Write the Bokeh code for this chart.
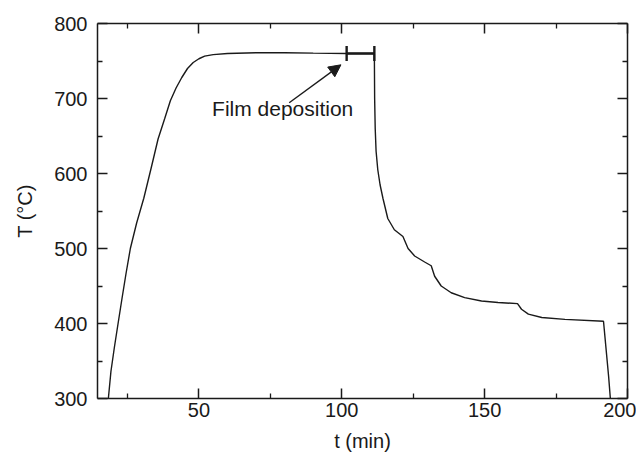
import math
from bokeh.plotting import figure
from bokeh.models import (Range1d, FixedTicker, LinearAxis, Label, Arrow,
                          NormalHead, CustomJSTickFormatter)
from bokeh.embed import file_html
from bokeh.resources import INLINE

# ---- data ----
heat_t = [18.3, 19.2, 20.4, 21.7, 23.1, 24.5, 26.0, 28.2, 30.7, 33.2, 35.7,
          38.0, 40.0, 42.0, 44.0, 46.0, 48.0, 50.0, 52.0, 55.0, 60.0, 70.0,
          80.0, 90.0, 101.7, 111.4]
heat_T = [300, 336, 368, 400, 434, 467, 500, 534, 567, 606, 646,
          673, 697, 714, 728, 740, 748, 753, 756.5, 758.5, 760, 761,
          761, 760.5, 760, 760]

cool_t = [111.4, 111.5, 111.7, 112.0, 112.6, 113.4, 114.4, 116.1, 118.4, 121.4,
          123.2, 125.5, 129.0, 131.3, 132.5, 134.8, 138.3, 143.0, 148.9, 154.7,
          161.5, 162.9, 165.3, 170.0, 178.1, 191.6, 193.4, 194.0]
cool_T = [760, 700, 660, 630, 605, 585, 567, 540, 525, 516,
          500, 490, 482, 477, 463, 450, 441, 434.5, 430, 428,
          426.5, 419, 412.5, 408, 405.5, 403, 329, 300]

dep_t = [101.7, 111.4]       # film deposition window (min)
dep_T = [760, 760]

x_ticks = [50, 100, 150, 200]
x_minor = [25, 75, 125, 175]
y_ticks = [300, 400, 500, 600, 700, 800]
y_minor = [350, 450, 550, 650, 750]

FONT = "Liberation Sans"
INK = "#1a1a1a"

p = figure(width=636, height=454, output_backend="svg", toolbar_location=None,
           x_range=Range1d(14.5, 200), y_range=Range1d(300, 800),
           min_border_left=97, min_border_right=9, min_border_top=23,
           min_border_bottom=52)
p.xgrid.visible = False
p.ygrid.visible = False
p.outline_line_color = None
p.background_fill_color = "white"
p.border_fill_color = "white"

p.line(heat_t + cool_t, heat_T + cool_T, line_color=INK, line_width=1.4)

# deposition bar with end caps
p.line(dep_t, dep_T, line_color=INK, line_width=2.6)
p.scatter(dep_t, dep_T, marker="dash", angle=math.pi / 2, size=15,
          line_color=INK, line_width=2.4)


def style_axis(ax, ticks, minor, labels=True):
    ax.ticker = FixedTicker(ticks=ticks, minor_ticks=minor)
    ax.axis_line_color = INK
    ax.axis_line_width = 1.5
    ax.major_tick_line_color = INK
    ax.major_tick_line_width = 1.5
    ax.minor_tick_line_color = INK
    ax.minor_tick_line_width = 1.3
    ax.major_tick_in = 10
    ax.major_tick_out = 0
    ax.minor_tick_in = 5
    ax.minor_tick_out = 0
    ax.major_label_text_font = FONT
    ax.major_label_text_font_size = "20px"
    ax.major_label_text_color = INK
    ax.axis_label_text_font = FONT
    ax.axis_label_text_font_size = "20px"
    ax.axis_label_text_font_style = "normal"
    ax.axis_label_text_color = INK
    if not labels:
        ax.formatter = CustomJSTickFormatter(code="return ''")
        ax.major_label_standoff = 0


style_axis(p.xaxis[0], x_ticks, x_minor)
style_axis(p.yaxis[0], y_ticks, y_minor)
p.xaxis[0].major_label_standoff = 4
p.yaxis[0].major_label_standoff = 10
p.xaxis[0].axis_label = "t (min)"
p.yaxis[0].axis_label = "T (°C)"
p.xaxis[0].axis_label_standoff = 10
p.yaxis[0].axis_label_standoff = 15

top = LinearAxis()
right = LinearAxis()
style_axis(top, x_ticks, x_minor, labels=False)
style_axis(right, y_ticks, y_minor, labels=False)
p.add_layout(top, "above")
p.add_layout(right, "right")

# annotation
p.add_layout(Label(x=54.6, y=671, text="Film deposition", text_font=FONT,
                   text_font_size="21px", text_color=INK))
p.add_layout(Arrow(x_start=81.6, y_start=694.3, x_end=99.7, y_end=744.9,
                   line_color=INK, line_width=1.4,
                   end=NormalHead(size=12, fill_color=INK, line_color=INK)))

open("out.html", "w").write(file_html(p, INLINE))
